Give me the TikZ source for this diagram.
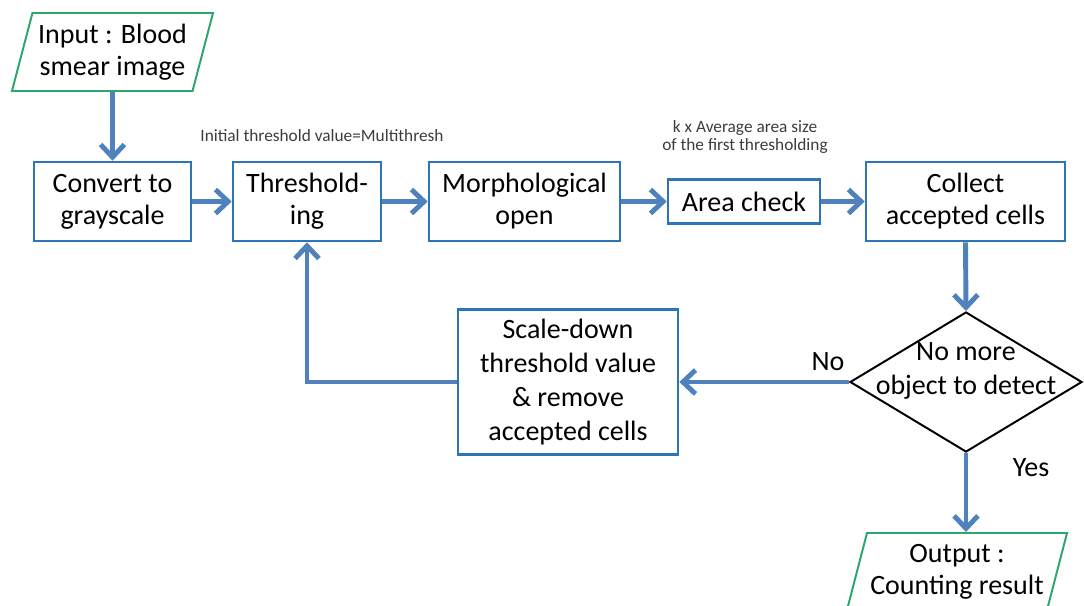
\documentclass[tikz,border=0pt]{standalone}
\usepackage{fontspec}
\setmainfont{Carlito}
\usetikzlibrary{shapes.geometric,arrows.meta}
\definecolor{boxblue}{RGB}{46,117,182}
\definecolor{flowblue}{RGB}{79,129,189}
\definecolor{iogreen}{RGB}{45,165,110}
\definecolor{notegray}{RGB}{60,60,60}
\tikzset{
  stepbox/.style={draw=boxblue, line width=1.8pt, align=center, inner sep=0pt,
    minimum height=1.975cm, font=\fontsize{19.9}{22.8}\selectfont},
  iobox/.style={trapezium, trapezium left angle=70, trapezium right angle=110,
    trapezium stretches body, draw=iogreen, line width=1.4pt, align=center,
    inner sep=0pt, font=\fontsize{19.9}{22.8}\selectfont},
  decision/.style={diamond, draw=black, line width=1.4pt, inner sep=0pt},
  flow/.style={draw=flowblue, line width=3.5pt, -{Straight Barb[length=9pt,width=17pt]}},
  note/.style={font=\fontsize{12.3}{12.8}\selectfont, text=notegray, align=center, inner sep=0pt},
  tag/.style={font=\fontsize{19.9}{22.8}\selectfont, inner sep=0pt},
  wide/.style={font=\fontsize{19.9}{24.2}\selectfont},
}
\begin{document}
\begin{tikzpicture}[x=0.025cm, y=-0.025cm]
    \useasboundingbox (0,0) rectangle (1084,605);
    % top row
    \node[iobox, minimum width=5.025cm, minimum height=1.95cm] (input) at (112.5,52) {Input : Blood\\smear image};
    \node[stepbox, minimum width=3.925cm] (convert) at (112.5,201.5) {Convert to\\grayscale};
    \node[stepbox, minimum width=3.7cm] (thresh) at (307,201.5) {Threshold-\\ing};
    \node[stepbox, minimum width=4.775cm] (morph) at (524.5,201.5) {Morphological\\open};
    \node[stepbox, minimum width=3.8cm, minimum height=1.1cm] (area) at (744,201.5) {Area check};
    \node[stepbox, minimum width=4.975cm] (collect) at (965.5,201.5) {Collect\\accepted cells};
    \node[note] (initnote) at (322,136) {Initial threshold value=Multithresh};
    \node[note] (areanote) at (745,137) {k x Average area size\\of the first thresholding};
    % loop and exit
    \node[decision, minimum width=5.8cm, minimum height=3.5cm] (check) at (966,382) {};
    \node[tag, wide, align=center] (checktext) at (966,371) {No more\\object to detect};
    \node[stepbox, wide, minimum width=5.5cm, minimum height=3.625cm] (scale) at (568,382)
        {Scale-down\\threshold value\\\& remove\\accepted cells};
    \node[iobox, minimum width=5.5cm, minimum height=1.925cm] (output) at (957,571.5) {Output :\\Counting result};
    \node[tag] (no) at (828,362) {No};
    \node[tag] (yes) at (1031,468) {Yes};
    \draw[flow] (input.south) -- (convert.north);
    \draw[flow] (convert.east) -- (thresh.west);
    \draw[flow] (thresh.east) -- (morph.west);
    \draw[flow] (morph.east) -- (area.west);
    \draw[flow] (area.east) -- (collect.west);
    \draw[flow] (collect.south) -- (check.north);
    \draw[flow] (check.west) -- (scale.east);
    \draw[flow] (scale.west) -| (thresh.south);
    \draw[flow] (check.south) -- (output.north -| check.south);
\end{tikzpicture}
\end{document}
